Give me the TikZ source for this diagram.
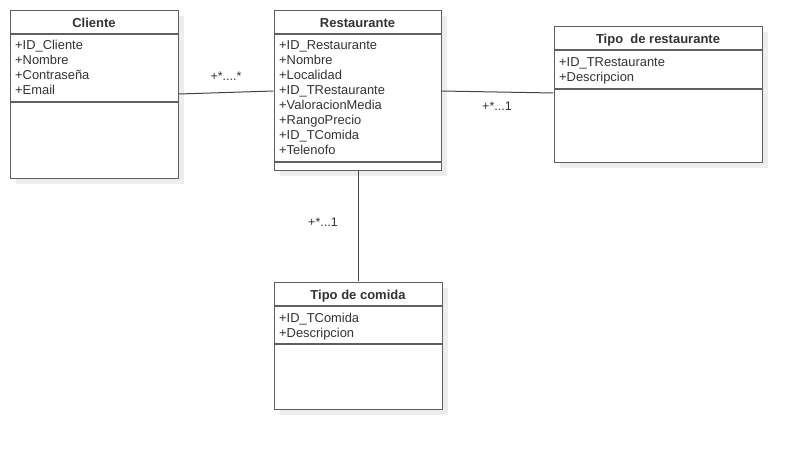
\documentclass[tikz,border=0pt]{standalone}
\usepackage{fontspec}
\setmainfont{Liberation Sans}
\definecolor{boxline}{HTML}{5F5F5F}
\definecolor{shadowc}{HTML}{EDEDED}
\definecolor{txt}{HTML}{333333}
\definecolor{conn}{HTML}{444444}
\begin{document}
\begin{tikzpicture}[x=1pt,y=-1pt,
  umlbox/.style={draw=boxline,line width=1.2pt,fill=white,inner sep=0pt,anchor=north west},
  shad/.style={fill=shadowc,draw=none},
  sep/.style={draw=boxline,line width=1.2pt},
  title/.style={font=\fontsize{13}{15}\selectfont\bfseries,text=txt,inner sep=0pt,anchor=base},
  attr/.style={font=\fontsize{12.9}{15}\selectfont,text=txt,inner sep=0pt,anchor=base west},
  lbl/.style={font=\fontsize{12.5}{14}\selectfont,text=txt,inner sep=0pt,anchor=base},
  connector/.style={draw=conn,line width=1pt}]
\useasboundingbox (0,0) rectangle (802,450);
\fill[white] (0,0) rectangle (802,450);
% shadows
\fill[shad] (16,16) rectangle (184,184);
\fill[shad] (280,16) rectangle (447,176);
\fill[shad] (560,32) rectangle (768,168);
\fill[shad] (280,288) rectangle (448,415);
% Cliente
\node[umlbox,minimum width=168pt,minimum height=168pt] (cli) at (10,10) {};
\draw[sep] (10,34) -- (178,34);
\draw[sep] (10,102) -- (178,102);
\node[title] (clit) at (94,27) {Cliente};
\node[attr] (cli1) at (15,49.5) {+ID\_Cliente};
\node[attr] (cli2) at (15,64.5) {+Nombre};
\node[attr] (cli3) at (15,79.5) {+Contraseña};
\node[attr] (cli4) at (15,94.5) {+Email};
% Restaurante
\node[umlbox,minimum width=167pt,minimum height=160pt] (res) at (274,10) {};
\draw[sep] (274,34) -- (441,34);
\draw[sep] (274,162) -- (441,162);
\node[title] (rest) at (357.5,27) {Restaurante};
\node[attr] (r1) at (279,49.5) {+ID\_Restaurante};
\node[attr] (r2) at (279,64.5) {+Nombre};
\node[attr] (r3) at (279,79.5) {+Localidad};
\node[attr] (r4) at (279,94.5) {+ID\_TRestaurante};
\node[attr] (r5) at (279,109.5) {+ValoracionMedia};
\node[attr] (r6) at (279,124.5) {+RangoPrecio};
\node[attr] (r7) at (279,139.5) {+ID\_TComida};
\node[attr] (r8) at (279,154.5) {+Telenofo};
% Tipo de restaurante
\node[umlbox,minimum width=208pt,minimum height=136pt] (tr) at (554,26) {};
\draw[sep] (554,50) -- (762,50);
\draw[sep] (554,89) -- (762,89);
\node[title] (trt) at (658,43) {Tipo\ \ de restaurante};
\node[attr] (tr1) at (559,66) {+ID\_TRestaurante};
\node[attr] (tr2) at (559,81) {+Descripcion};
% Tipo de comida
\node[umlbox,minimum width=168pt,minimum height=127pt] (tc) at (274,282) {};
\draw[sep] (274,306) -- (442,306);
\draw[sep] (274,344) -- (442,344);
\node[title] (tct) at (358,299.5) {Tipo de comida};
\node[attr] (tc1) at (279,322.5) {+ID\_TComida};
\node[attr] (tc2) at (279,337.5) {+Descripcion};
% connectors
\coordinate (a1) at (178.6,94);
\coordinate (a2) at (273.4,91);
\draw[connector] (a1) -- (a2);
\coordinate (b1) at (441.6,91);
\coordinate (b2) at (553.4,93);
\draw[connector] (b1) -- (b2);
\coordinate (c1) at (358,170.6);
\coordinate (c2) at (358,281.4);
\draw[connector] (c1) -- (c2);
\node[lbl] (l1) at (226,80) {+*....*};
\node[lbl] (l2) at (497,110.5) {+*...1};
\node[lbl] (l3) at (323,226.5) {+*...1};
\end{tikzpicture}
\end{document}
